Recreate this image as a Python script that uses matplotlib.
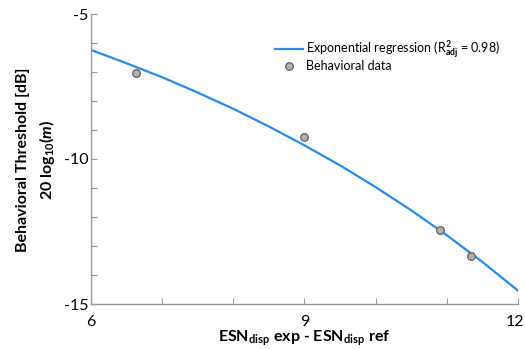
import matplotlib
matplotlib.use("Agg")
import matplotlib.pyplot as plt
import matplotlib.transforms as mtransforms

# data
obs_x = [6.63, 9.00, 10.91, 11.34]
obs_y = [-7.02, -9.25, -12.46, -13.34]

fit_x = [6.0, 6.5, 7.0, 7.5, 8.0, 8.5, 9.0, 9.5, 10.0, 10.5, 11.0, 11.5, 12.0]
fit_y = [-6.24, -6.70, -7.18, -7.71, -8.27, -8.88, -9.53, -10.22, -10.97, -11.77, -12.63, -13.55, -14.54]

x_ticks = [6, 7, 8, 9, 10, 11, 12]
x_ticklabels = ["6", "", "", "9", "", "", "12"]
y_ticks = [-15, -14, -13, -12, -11, -10, -9, -8, -7, -6, -5]
y_ticklabels = ["-15", "", "", "", "", "-10", "", "", "", "", "-5"]

plt.rcParams['font.family'] = ['Lato', 'DejaVu Sans']
plt.rcParams['mathtext.fontset'] = 'custom'
plt.rcParams['mathtext.rm'] = 'Lato'
plt.rcParams['mathtext.bf'] = 'Lato:bold'
plt.rcParams['mathtext.it'] = 'Lato:italic'
plt.rcParams['mathtext.bfit'] = 'Lato:bold:italic'

fig = plt.figure(figsize=(5.25, 3.49), dpi=100)
ax = fig.add_axes([91/525, 1-304/349, (518-91)/525, (304-14)/349])

gray = "#9a9a9a"
ax.plot(fit_x, fit_y, color="#2a8ae8", lw=1.6,
        label=r"Exponential regression (R$^{\mathbf{2}}_{\mathbf{adj}}$ = 0.98)")
ax.plot(obs_x, obs_y, 'o', ms=5.5, mfc="#b0b0b0", mec="#606060", mew=0.9,
        label="Behavioral data", zorder=3)

ax.set_xlim(6, 12)
ax.set_ylim(-15, -5)
ax.set_xticks(x_ticks)
ax.set_xticklabels(x_ticklabels)
ax.set_yticks(y_ticks)
ax.set_yticklabels(y_ticklabels)
for s in ["top", "right"]:
    ax.spines[s].set_visible(False)
for s in ["left", "bottom"]:
    ax.spines[s].set_color(gray)
    ax.spines[s].set_linewidth(1.0)
ax.tick_params(direction='in', length=4, width=0.8, color=gray,
               labelsize=11.5, labelcolor="black")
ax.tick_params(axis='y', pad=2)
ax.tick_params(axis='x', pad=8)

# nudge last x tick label so it stays inside the figure
lab12 = ax.get_xticklabels()[-1]
lab12.set_transform(lab12.get_transform() +
                    mtransforms.ScaledTranslation(-3/100, 0, fig.dpi_scale_trans))

ax.set_xlabel(r"ESN$_{\mathbf{disp}}$ exp - ESN$_{\mathbf{disp}}$ ref",
              fontsize=11.5, fontweight='bold', labelpad=0)

fig.text(23/525, 1-160/349, "Behavioral Threshold [dB]", rotation=90,
         fontsize=11.5, fontweight='bold', ha='center', va='center')
fig.text(47/525, 1-160/349, r"20 log$_{\mathbf{10}}$($\mathbfit{m}$)", rotation=90,
         fontsize=11.5, fontweight='bold', ha='center', va='center')

leg = ax.legend(loc='upper left', bbox_to_anchor=((270-91)/427, 1-(34-14)/290),
                frameon=False, fontsize=9, handlelength=2.2, handletextpad=0.3,
                borderaxespad=0, labelspacing=-0.1)

fig.savefig("out.png", dpi=100)
